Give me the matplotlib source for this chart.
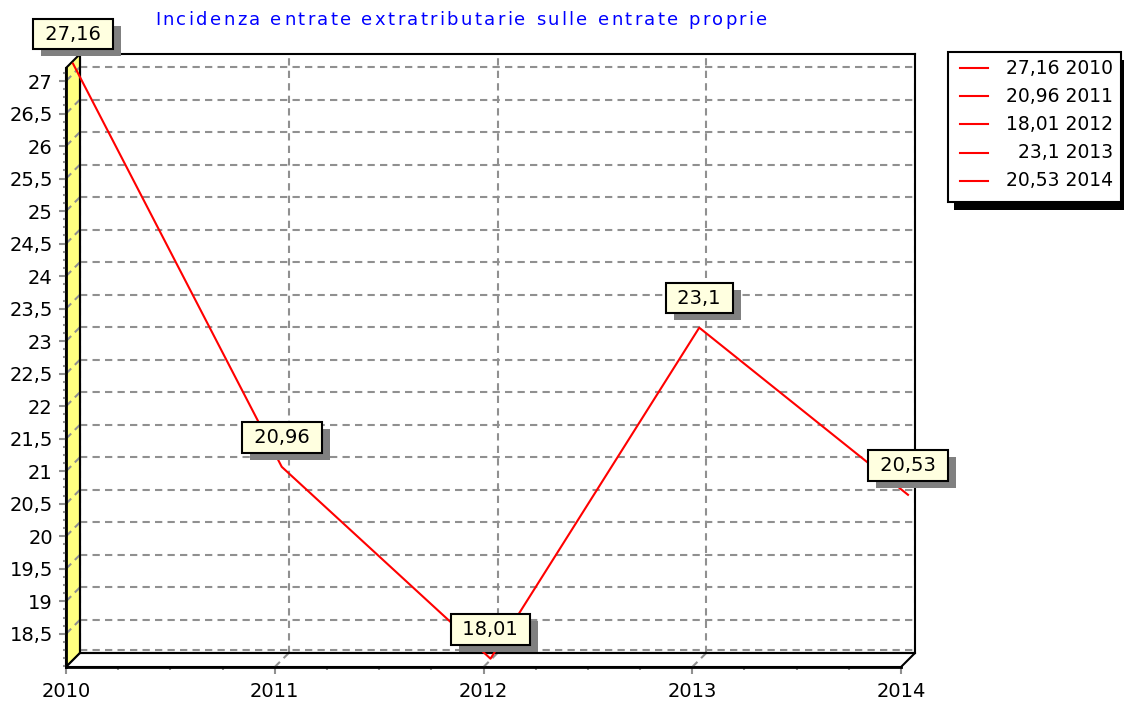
import numpy as np
import matplotlib
matplotlib.use('Agg')
import matplotlib.pyplot as plt
import matplotlib.patheffects as pe
from matplotlib.patches import Polygon, Rectangle
from matplotlib.lines import Line2D
from matplotlib.ticker import FuncFormatter, MultipleLocator
from matplotlib.transforms import ScaledTranslation
from matplotlib.textpath import TextToPath
from matplotlib.font_manager import FontProperties

# data
years = [2010, 2011, 2012, 2013, 2014]
values = [27.16, 20.96, 18.01, 23.1, 20.53]
title = 'Incidenza entrate extratributarie sulle entrate proprie'

W, H, DPI = 1124, 705, 100
ymin, ymax = 17.99, 27.2
depth = 14  # 3d offset in pixels
grey = '#909090'
dash = (0, (3.5, 2.5))


def comma(v, pos=None):
    return f'{v:g}'.replace('.', ',')


def fx(px):
    return px / W


def fy(py):
    return (H - py) / H


fig = plt.figure(figsize=(W / DPI, H / DPI), dpi=DPI)

''' back wall '''
ax = fig.add_axes([fx(80), 52 / H, 835 / W, 599 / H])
ax.set_xlim(years[0], years[-1])
ax.set_ylim(ymin, ymax)
ax.set_xticks(years)
ax.set_yticks(np.arange(18.5, 27.01, 0.5))
ax.tick_params(length=0, labelbottom=False, labelleft=False)
ax.grid(True, color=grey, linestyle=dash, linewidth=1.5)
ax.set_axisbelow(True)
for s in ax.spines.values():
    s.set_linewidth(1.5)
ax.axhline(ymin + 3 * (ymax - ymin) / 599, color=grey, ls=dash, lw=1.5, zorder=0.5)

ppx = 835 / (years[-1] - years[0])
ppy = 599 / (ymax - ymin)
dx, dy = depth / ppx, depth / ppy
x0, x1 = years[0], years[-1]

# left wall
wall = Polygon([(x0 - dx, ymin - dy), (x0 - dx, ymax - dy), (x0, ymax), (x0, ymin)],
               closed=True, fc='#FFFF80', ec='black', lw=1.5, clip_on=False, zorder=0.3)
ax.add_patch(wall)
for v in ax.get_yticks():
    ax.plot([x0 - dx, x0], [v - dy, v], color=grey, ls=dash, lw=1.5, clip_on=False, zorder=0.6)

# floor
floor = Polygon([(x0 - dx, ymin - dy), (x1 - dx, ymin - dy), (x1, ymin), (x0, ymin)],
                closed=True, fc='white', ec='black', lw=1.5, clip_on=False, zorder=0.3)
ax.add_patch(floor)
for yr in years[1:-1]:
    ax.plot([yr - dx, yr], [ymin - dy, ymin], color=grey, ls=dash, lw=1.5, clip_on=False, zorder=0.6)

''' front plane: axis labels '''
axf = fig.add_axes([fx(80 - depth), (52 - depth) / H, 835 / W, 599 / H], facecolor='none')
axf.set_xlim(ax.get_xlim())
axf.set_ylim(ax.get_ylim())
axf.spines['top'].set_visible(False)
axf.spines['right'].set_visible(False)
axf.spines['left'].set_linewidth(2)
axf.spines['bottom'].set_linewidth(2)
axf.set_xticks(years)
axf.xaxis.set_minor_locator(MultipleLocator(0.25))
axf.set_yticks(np.arange(18.5, 27.01, 0.5))
axf.set_yticks(np.arange(18.0, 27.2, 0.125), minor=True)
axf.yaxis.set_major_formatter(FuncFormatter(comma))
axf.tick_params(which='both', direction='out', color=grey, width=1.5, labelsize=14)
axf.tick_params(which='major', length=5)
axf.tick_params(which='minor', length=2.5)
axf.tick_params(axis='x', pad=5.5)
axf.tick_params(axis='y', pad=4.5)

''' series, at middle depth '''
mid = ax.transData + ScaledTranslation(-depth / 2 / DPI, -depth / 2 / DPI, fig.dpi_scale_trans)
ax.plot(years, values, color='#FF0000', lw=1.5, transform=mid, clip_on=False, zorder=3)

# value marks with a grey drop shadow (8 px right, 7 px down)
shadow = pe.SimplePatchShadow(offset=(8 * 72 / DPI, -7 * 72 / DPI),
                              shadow_rgbFace='#808080', alpha=1.0)
for yr, v in zip(years, values):
    t = ax.annotate(' ' + comma(v) + ' ', (yr, v), xycoords=mid, xytext=(0, 20),
                    textcoords='offset pixels', ha='center', va='bottom', fontsize=14,
                    color='black', annotation_clip=False, zorder=5,
                    bbox=dict(boxstyle='square,pad=0.3', fc='#FFFFE0', ec='black', lw=1.5))
    t.get_bbox_patch().set_path_effects([shadow, pe.Normal()])

''' legend '''
lx, ly, lw_, lh = 948, 52, 173, 150
fig.add_artist(Rectangle((fx(lx + 6), fy(ly + lh + 8)), lw_ / W, lh / H,
                         transform=fig.transFigure, fc='black', ec='none'))
fig.add_artist(Rectangle((fx(lx), fy(ly + lh)), lw_ / W, lh / H,
                         transform=fig.transFigure, fc='white', ec='black', lw=1.5))
for i, (yr, v) in enumerate(zip(years, values)):
    yy = fy(68 + i * 28.2)
    fig.add_artist(Line2D([fx(960), fx(988)], [yy, yy], color='#FF0000', lw=1.5,
                          transform=fig.transFigure))
    fig.text(fx(1113), yy, f'{comma(v)} {yr}', ha='right', va='center', fontsize=13.5)

''' title, letter spaced like the original '''
tsize = 13
prop = FontProperties(family='DejaVu Sans', size=tsize)
ttp = TextToPath()


def width_px(s):
    if not s:
        return 0.0
    return ttp.get_text_width_height_descent(s, prop, ismath=False)[0] * DPI / 72


t_left, t_right = 155, 767
natural = width_px(title)
spacing = (t_right - t_left - natural) / (len(title) - 1)
for i, ch in enumerate(title):
    if ch == ' ':
        continue
    xpos = t_left + width_px(title[:i]) + i * spacing
    fig.text(fx(xpos), fy(20), ch, color='#0000FF', fontproperties=prop, ha='left', va='center')

fig.savefig('out.png', dpi=DPI)
